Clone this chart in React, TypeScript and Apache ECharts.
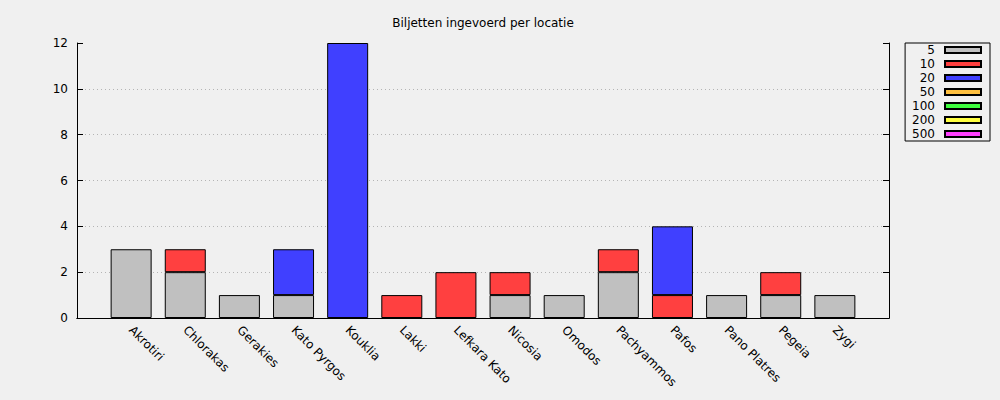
import { useEffect, useRef } from "react";
import * as echarts from "echarts";

const title = "Biljetten ingevoerd per locatie";
const categories = [
  "Akrotiri", "Chlorakas", "Gerakies", "Kato Pyrgos", "Kouklia", "Lakki", "Lefkara Kato",
  "Nicosia", "Omodos", "Pachyammos", "Pafos", "Pano Platres", "Pegeia", "Zygi",
];
const denominations = ["5", "10", "20", "50", "100", "200", "500"];
const colors = ["#c0c0c0", "#ff4040", "#4040ff", "#ffc040", "#40ff40", "#ffff40", "#ff40ff"];
const notes5 = [3, 2, 1, 1, 0, 0, 0, 1, 1, 2, 0, 1, 1, 1];
const notes10 = [0, 1, 0, 0, 0, 1, 2, 1, 0, 1, 1, 0, 1, 0];
const notes20 = [0, 0, 0, 2, 12, 0, 0, 0, 0, 0, 3, 0, 0, 0];
const notes50 = [0, 0, 0, 0, 0, 0, 0, 0, 0, 0, 0, 0, 0, 0];
const notes100 = [0, 0, 0, 0, 0, 0, 0, 0, 0, 0, 0, 0, 0, 0];
const notes200 = [0, 0, 0, 0, 0, 0, 0, 0, 0, 0, 0, 0, 0, 0];
const notes500 = [0, 0, 0, 0, 0, 0, 0, 0, 0, 0, 0, 0, 0, 0];
const yTicks = [0, 2, 4, 6, 8, 10, 12];

const seriesValues = [notes5, notes10, notes20, notes50, notes100, notes200, notes500];
const FONT = "DejaVu Sans";

export default function App() {
  const ref = useRef<HTMLDivElement>(null);
  useEffect(() => {
    if (!ref.current) return;
    const chart = echarts.init(ref.current, undefined, { renderer: "svg" });
    const paddedCats = ["", ...categories, ""];
    const yMin = yTicks[0];
    const yMax = yTicks[yTicks.length - 1];
    const yInt = yTicks[1] - yTicks[0];
    chart.setOption({
      animation: false,
      backgroundColor: "#f0f0f0",
      title: {
        text: title,
        left: 483,
        top: 17,
        textAlign: "center",
        padding: 0,
        textStyle: { fontFamily: FONT, fontSize: 12, fontWeight: "normal", color: "#000" },
      },
      legend: {
        data: denominations,
        orient: "vertical",
        right: 10,
        top: 43,
        align: "right",
        icon: "rect",
        itemWidth: 36,
        itemHeight: 6,
        itemGap: 0,
        padding: [0, 8, 0, 7],
        borderColor: "#000",
        borderWidth: 1,
        selectedMode: false,
        textStyle: { fontFamily: FONT, fontSize: 12, color: "#000", lineHeight: 14, padding: [0, 5, 0, 0] },
      },
      grid: { left: 77, right: 111, top: 43, bottom: 82, containLabel: false },
      xAxis: [
        {
          type: "category",
          data: paddedCats,
          boundaryGap: false,
          position: "bottom",
          axisLine: { show: true, lineStyle: { color: "#000", width: 1 } },
          axisTick: { show: false },
          splitLine: { show: false },
          axisLabel: {
            interval: 0,
            rotate: -45,
            margin: 10,
            fontFamily: FONT,
            fontSize: 12,
            color: "#000",
          },
        },
        {
          type: "category",
          data: paddedCats,
          boundaryGap: false,
          position: "top",
          axisLine: { show: true, lineStyle: { color: "#000", width: 1 } },
          axisTick: { show: false },
          axisLabel: { show: false },
          splitLine: { show: false },
        },
      ],
      yAxis: [
        {
          type: "value",
          min: yMin,
          max: yMax,
          interval: yInt,
          position: "left",
          axisLine: { show: true, lineStyle: { color: "#000", width: 1 } },
          axisTick: { show: true, inside: true, length: 6, lineStyle: { color: "#000" } },
          axisLabel: { margin: 9, fontFamily: FONT, fontSize: 12, color: "#000" },
          splitLine: {
            show: true,
            showMinLine: false,
            showMaxLine: false,
            lineStyle: { type: [1, 3], color: "#b4b4b4", width: 1 },
          },
        },
        {
          type: "value",
          min: yMin,
          max: yMax,
          interval: yInt,
          position: "right",
          axisLine: { show: true, lineStyle: { color: "#000", width: 1 } },
          axisTick: { show: true, inside: true, length: 6, lineStyle: { color: "#000" } },
          axisLabel: { show: false },
          splitLine: { show: false },
        },
      ],
      series: denominations.map((d, i) => ({
        name: d,
        type: "bar",
        stack: "total",
        xAxisIndex: 0,
        yAxisIndex: 0,
        barWidth: 41,
        itemStyle: { color: colors[i], borderColor: "#000", borderWidth: 1 },
        data: [
          null,
          ...seriesValues[i].map((v) => (v === 0 ? { value: v, itemStyle: { borderWidth: 0 } } : v)),
          null,
        ],
      })),
    });
    return () => chart.dispose();
  }, []);
  return (
    <div
      ref={ref}
      style={{ position: "absolute", left: 0, top: 0, width: 1000, height: 400 }}
    />
  );
}
